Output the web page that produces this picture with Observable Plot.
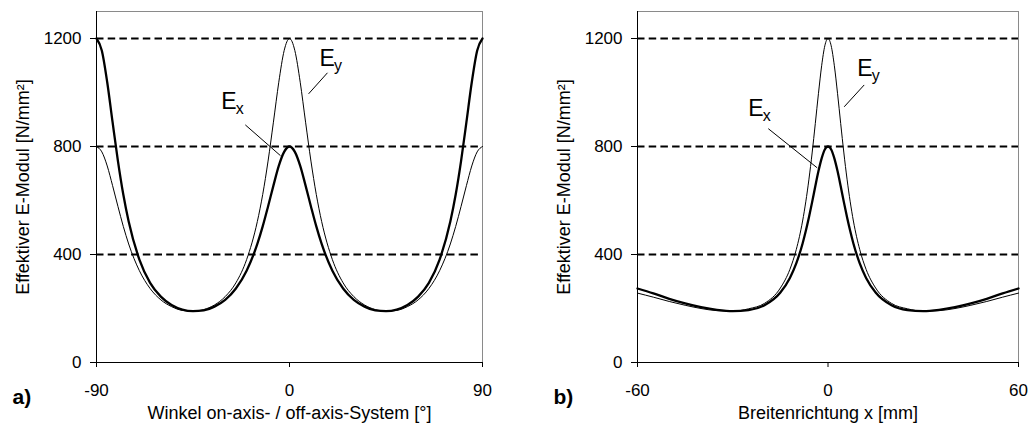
<!DOCTYPE html>
<html>
<head>
<meta charset="utf-8">
<script src="https://cdn.jsdelivr.net/npm/d3@7"></script>
<script src="https://cdn.jsdelivr.net/npm/@observablehq/plot@0.6"></script>
<style>
  html, body { margin: 0; padding: 0; background: #fff; }
  #wrap { display: flex; width: 1028px; height: 430px; }
</style>
</head>
<body>
<div id="wrap"></div>
<script>
// ---------- Panel a): angle between on-axis and off-axis system ----------
const angleA = [-90, -87.5, -85, -82.5, -80, -77.5, -75, -70, -65, -60, -55, -50, -45, -40, -35, -30, -25, -20, -15, -12.5, -10, -7.5, -5, -2.5,
  0, 2.5, 5, 7.5, 10, 12.5, 15, 20, 25, 30, 35, 40, 45, 50, 55, 60, 65, 70, 75, 77.5, 80, 82.5, 85, 87.5, 90];
const exA = [1200, 1155, 1038, 890, 746, 622, 522, 381, 295, 244, 213, 196, 190, 193, 207, 232, 274, 340, 439, 504, 578, 655, 728, 780,
  800, 780, 728, 655, 578, 504, 439, 340, 274, 232, 207, 193, 190, 196, 213, 244, 295, 381, 522, 622, 746, 890, 1038, 1155, 1200];
const eyA = [800, 780, 728, 655, 578, 504, 439, 340, 274, 232, 207, 193, 190, 196, 213, 244, 295, 381, 522, 622, 746, 890, 1038, 1155,
  1200, 1155, 1038, 890, 746, 622, 522, 381, 295, 244, 213, 196, 190, 193, 207, 232, 274, 340, 439, 504, 578, 655, 728, 780, 800];

// ---------- Panel b): width direction x [mm] ----------
const posB = [-60, -55, -50, -45, -40, -35, -30, -25, -20, -15, -12, -10, -8, -7, -6, -5, -4, -3, -2, -1,
  0, 1, 2, 3, 4, 5, 6, 7, 8, 10, 12, 15, 20, 25, 30, 35, 40, 45, 50, 55, 60];
const exB = [274, 256, 236, 219, 205, 195, 190, 194, 212, 259, 313, 367, 441, 487, 538, 594, 653, 709, 756, 789,
  800, 789, 756, 709, 653, 594, 538, 487, 441, 367, 313, 259, 212, 194, 190, 195, 205, 219, 236, 256, 274];
const eyB = [257, 242, 226, 212, 200, 192, 190, 199, 219, 276, 345, 418, 524, 595, 679, 776, 885, 997, 1099, 1173,
  1200, 1173, 1099, 997, 885, 776, 679, 595, 524, 418, 345, 276, 219, 199, 190, 192, 200, 212, 226, 242, 257];

// axes / reference values
const yTicks = [0, 400, 800, 1200];
const refLevels = [400, 800, 1200];
const yMax = 1300;
const xTicksA = [-90, 0, 90];
const xTicksB = [-60, 0, 60];

// texts
const yTitle = "Effektiver E-Modul [N/mm²]";
const xTitleA = "Winkel on-axis- / off-axis-System [°]";
const xTitleB = "Breitenrichtung x [mm]";
const panelA = "a)";
const panelB = "b)";

// curve labels (data coordinates) and leader lines
const labelsA = [{x: -31.8, y: 940, sub: "x"}, {x: 14.0, y: 1099, sub: "y"}];
const leadersA = [{x1: -20.6, y1: 880, x2: -4.2, y2: 766}, {x1: 17.7, y1: 1073, x2: 8.9, y2: 995}];
const labelsB = [{x: -25.1, y: 914, sub: "x"}, {x: 9.2, y: 1062, sub: "y"}];
const leadersB = [{x1: -18.8, y1: 866, x2: -3.4, y2: 721}, {x1: 11.4, y1: 1028, x2: 5.1, y2: 947}];

const FONT = "'Liberation Sans', Arial, Helvetica, sans-serif";

function panel({xs, ex, ey, xDomain, xTicks, xTitle, tag, labels, leaders, marginLeft, marginRight}) {
  const rowsX = xs.map((x, i) => ({x, v: ex[i]}));
  const rowsY = xs.map((x, i) => ({x, v: ey[i]}));
  return Plot.plot({
    width: 514,
    height: 430,
    marginLeft,
    marginRight,
    marginTop: 11,
    marginBottom: 68,
    x: {domain: xDomain},
    y: {domain: [0, yMax]},
    style: {fontFamily: FONT, fontSize: "17px", color: "#000", background: "#fff", overflow: "visible"},
    marks: [
      Plot.ruleY([yMax], {stroke: "#8a8a8a", strokeWidth: 1}),
      Plot.ruleX([xDomain[1]], {stroke: "#8a8a8a", strokeWidth: 1}),
      Plot.ruleY(refLevels, {stroke: "#000", strokeWidth: 1.8, strokeDasharray: "7.5,4.2"}),
      Plot.line(rowsY, {x: "x", y: "v", stroke: "#000", strokeWidth: 1, curve: "monotone-x"}),
      Plot.line(rowsX, {x: "x", y: "v", stroke: "#000", strokeWidth: 2.3, curve: "monotone-x"}),
      Plot.link(leaders, {x1: "x1", y1: "y1", x2: "x2", y2: "y2", stroke: "#000", strokeWidth: 1}),
      Plot.text(labels, {x: "x", y: "y", text: () => "E", textAnchor: "start", lineAnchor: "bottom", fontSize: 23}),
      Plot.text(labels, {x: "x", y: "y", text: "sub", textAnchor: "start", lineAnchor: "bottom", fontSize: 16, dx: 14.5, dy: 5}),
      Plot.axisX({ticks: xTicks, tickSize: 5, tickPadding: 16, label: null, tickFormat: d => String(d), fontSize: 17}),
      Plot.axisY({ticks: yTicks, tickSize: 6, tickPadding: 9, label: null, tickFormat: d => String(d), fontSize: 17}),
      Plot.ruleX([xDomain[0]], {stroke: "#000", strokeWidth: 1}),
      Plot.ruleY([0], {stroke: "#000", strokeWidth: 1}),
      Plot.text([xTitle], {frameAnchor: "bottom", dy: 56, lineAnchor: "bottom", textAnchor: "middle", fontSize: 18}),
      Plot.text([yTitle], {frameAnchor: "left", rotate: -90, dx: -73, dy: 0, lineAnchor: "middle", textAnchor: "middle", fontSize: 18}),
      Plot.text([tag], {frameAnchor: "bottom-left", dx: -84, dy: 41, textAnchor: "start", lineAnchor: "bottom", fontWeight: "bold", fontSize: 21})
    ]
  });
}

const wrap = document.getElementById("wrap");
wrap.appendChild(panel({
  xs: angleA, ex: exA, ey: eyA, xDomain: [-90, 90], xTicks: xTicksA, xTitle: xTitleA, tag: panelA,
  labels: labelsA, leaders: leadersA, marginLeft: 96, marginRight: 32
}));
wrap.appendChild(panel({
  xs: posB, ex: exB, ey: eyB, xDomain: [-60, 60], xTicks: xTicksB, xTitle: xTitleB, tag: panelB,
  labels: labelsB, leaders: leadersB, marginLeft: 123, marginRight: 10
}));
</script>
</body>
</html>
